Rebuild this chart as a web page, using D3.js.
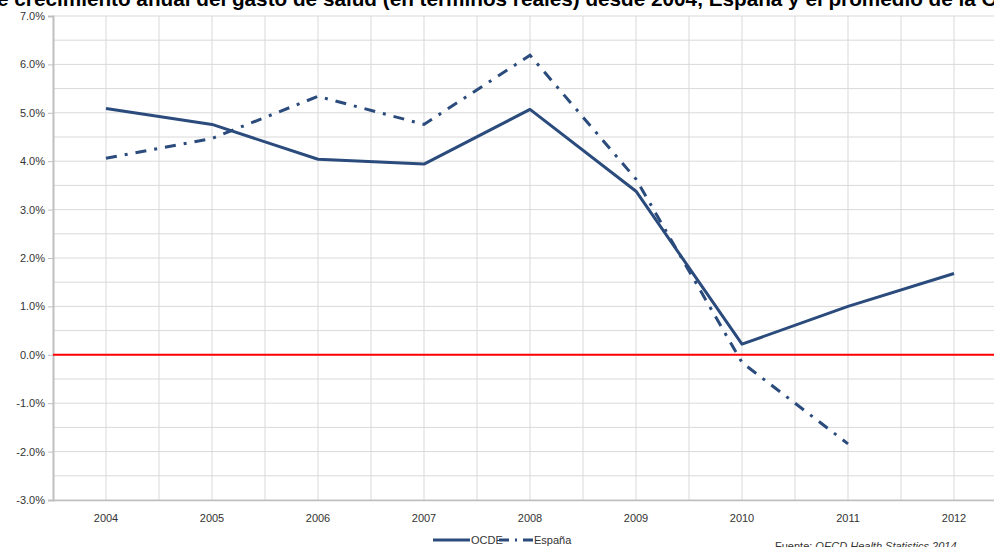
<!DOCTYPE html>
<html>
<head>
<meta charset="utf-8">
<script src="https://cdn.jsdelivr.net/npm/d3@7"></script>
<style>
  body { margin: 0; background: #fff; }
  svg { display: block; font-family: "Liberation Sans", Arial, sans-serif; }
</style>
</head>
<body>
<div id="chart"></div>
<script>
// ---- data ----
const years = ["2004", "2005", "2006", "2007", "2008", "2009", "2010", "2011", "2012"];
const ocde = [5.09, 4.76, 4.04, 3.94, 5.07, 3.38, 0.22, 1.0, 1.68];
const espana = [4.06, 4.47, 5.34, 4.76, 6.19, 3.63, -0.16, -1.84, null];
const yTicks = [7, 6, 5, 4, 3, 2, 1, 0, -1, -2, -3];

const titlePre = "Tasa de crecimiento anual del gasto de salud ";
const titleMid = "(en términos reales)";
const titlePost = " desde 2004, España y el promedio de la OCDE";

const W = 994, H = 547;
const margin = {top: 16, right: -13, bottom: 47, left: 53};
const width = W - margin.left - margin.right,
      height = H - margin.top - margin.bottom;

const svg = d3.select("#chart").append("svg")
  .attr("width", W).attr("height", H);

// title, mostly cut off at the top edge; sized so "(" .. ")" sit where the picture has them
function measure(str, size) {
  const t = svg.append("text").style("font-size", size + "px").style("font-weight", "bold").text(str);
  const w = t.node().getComputedTextLength();
  t.remove();
  return w;
}
let tSize = 17;
tSize = tSize * 197 / measure(titleMid, tSize);
const preW = measure(titlePre, tSize);
svg.append("text")
  .attr("x", 377 - preW).attr("y", 6)
  .style("font-size", tSize + "px").style("font-weight", "bold").style("fill", "#000")
  .text(titlePre + titleMid + titlePost);

const g = svg.append("g").attr("transform", `translate(${margin.left},${margin.top})`);

const x = d3.scaleBand().domain(years).range([0, width]);
const y = d3.scaleLinear().domain([-3, 7]).range([height, 0]);

// horizontal grid every 0.5%
const hGrid = d3.range(-3, 7.01, 0.5);
g.selectAll(".hg").data(hGrid).enter().append("line")
  .attr("x1", 0).attr("x2", width)
  .attr("y1", d => y(d)).attr("y2", d => y(d))
  .attr("stroke", "#d9d9d9").attr("stroke-width", 1);

// vertical grid at category centers and boundaries
const vGrid = [];
years.forEach(d => { vGrid.push(x(d)); vGrid.push(x(d) + x.bandwidth() / 2); });
vGrid.push(width);
g.selectAll(".vg").data(vGrid.filter(v => v > 0)).enter().append("line")
  .attr("x1", d => d).attr("x2", d => d)
  .attr("y1", 0).attr("y2", height)
  .attr("stroke", "#d9d9d9").attr("stroke-width", 1);

// y axis
const yAxis = g.append("g")
  .call(d3.axisLeft(y).tickValues(yTicks).tickSize(5).tickFormat(d => d.toFixed(1) + "%"));
yAxis.select(".domain").attr("stroke", "#bfbfbf").attr("stroke-width", 2);
yAxis.selectAll(".tick line").attr("stroke", "#bfbfbf");
yAxis.selectAll(".tick text").style("font-size", "11px").style("fill", "#333").attr("x", -8);

// x axis
const xAxis = g.append("g").attr("transform", `translate(0,${height})`)
  .call(d3.axisBottom(x).tickSize(0).tickPadding(14));
xAxis.select(".domain").attr("stroke", "#bfbfbf").attr("stroke-width", 1.5);
xAxis.selectAll(".tick text").style("font-size", "11px").style("fill", "#333");

// zero line
g.append("line")
  .attr("x1", 0).attr("x2", width)
  .attr("y1", y(0)).attr("y2", y(0))
  .attr("stroke", "#ff0000").attr("stroke-width", 2);

const lineColor = "#2a4b7c";
const line = d3.line()
  .defined(d => d.v !== null)
  .x(d => x(d.year) + x.bandwidth() / 2)
  .y(d => y(d.v));

g.append("path")
  .datum(years.map((yr, i) => ({year: yr, v: ocde[i]})))
  .attr("d", line)
  .attr("fill", "none").attr("stroke", lineColor).attr("stroke-width", 3)
  .attr("stroke-linejoin", "round");

g.append("path")
  .datum(years.map((yr, i) => ({year: yr, v: espana[i]})))
  .attr("d", line)
  .attr("fill", "none").attr("stroke", lineColor).attr("stroke-width", 3)
  .attr("stroke-dasharray", "11,8,3,8");

// legend
const leg = svg.append("g").attr("transform", "translate(433,540)");
leg.append("line").attr("x1", 0).attr("x2", 37).attr("y1", 0).attr("y2", 0)
  .attr("stroke", lineColor).attr("stroke-width", 3);
leg.append("text").attr("x", 38).attr("y", 4).style("font-size", "11px").style("fill", "#333").text("OCDE");
leg.append("line").attr("x1", 66).attr("x2", 100).attr("y1", 0).attr("y2", 0)
  .attr("stroke", lineColor).attr("stroke-width", 3).attr("stroke-dasharray", "10,6,2,6");
leg.append("text").attr("x", 101).attr("y", 4).style("font-size", "11px").style("fill", "#333").text("España");

// source note
const src = svg.append("text").attr("x", 775).attr("y", 550)
  .style("font-size", "11px").style("fill", "#333");
src.append("tspan").text("Fuente: ");
src.append("tspan").style("font-style", "italic").text("OECD Health Statistics 2014");
</script>
</body>
</html>
